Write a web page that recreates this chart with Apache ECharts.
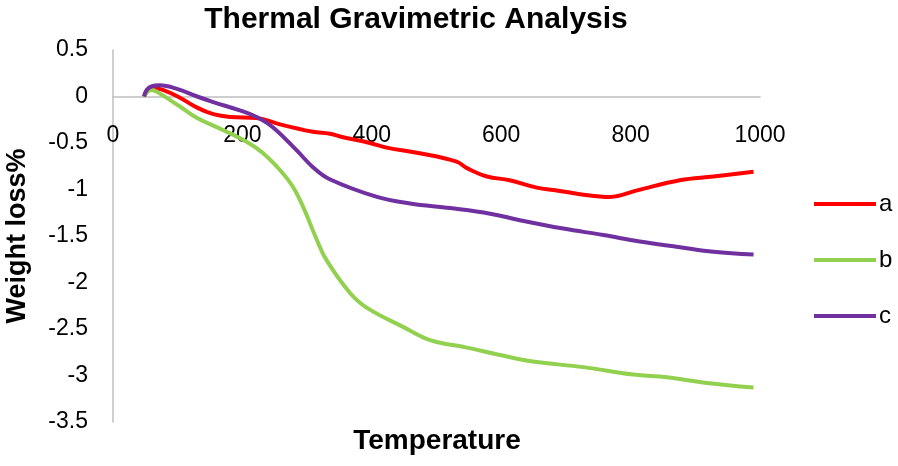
<!DOCTYPE html>
<html><head><meta charset="utf-8">
<script src="https://cdn.jsdelivr.net/npm/echarts@6/dist/echarts.min.js"></script>
<style>html,body{margin:0;padding:0;background:#fff}#c{width:898px;height:466px}</style>
</head><body><div id="c"></div>
<script>
const seriesNames = ['a', 'b', 'c'];
const xTicks = [0, 200, 400, 600, 800, 1000];
const yTicks = [0.5, 0, -0.5, -1, -1.5, -2, -2.5, -3, -3.5];
const dataA = [[48,0],[55,0.07],[65,0.09],[77,0.07],[100,0.0],[130,-0.12],[155,-0.19],[181,-0.22],[222,-0.23],[258,-0.30],[309,-0.38],[335,-0.40],[351,-0.43],[397,-0.50],[423,-0.55],[474,-0.61],[531,-0.70],[547,-0.77],[578,-0.86],[613,-0.90],[655,-0.98],[686,-1.01],[722,-1.05],[768,-1.08],[810,-1.01],[876,-0.90],[928,-0.86],[990,-0.81]];
const dataB = [[48,0],[53,0.05],[60,0.07],[68,0.05],[104,-0.11],[130,-0.23],[170,-0.36],[207,-0.49],[232,-0.61],[258,-0.79],[278,-0.97],[294,-1.19],[315,-1.54],[330,-1.76],[366,-2.11],[392,-2.27],[449,-2.48],[490,-2.62],[547,-2.70],[598,-2.78],[649,-2.85],[727,-2.91],[804,-2.99],[856,-3.02],[918,-3.08],[990,-3.13]];
const dataC = [[48,0],[52,0.07],[60,0.11],[72,0.12],[100,0.08],[130,0.0],[155,-0.06],[196,-0.15],[222,-0.22],[247,-0.33],[284,-0.58],[309,-0.76],[335,-0.89],[408,-1.08],[459,-1.15],[521,-1.20],[583,-1.26],[629,-1.33],[696,-1.42],[758,-1.49],[814,-1.56],[876,-1.62],[928,-1.67],[990,-1.70]];
const colors = ['#FF0000', '#92D050', '#7030A0'];
const FONT = 'Liberation Sans';
const chart = echarts.init(document.getElementById('c'));
const mk = (name, data, color) => ({
  name, type: 'line', data, smooth: 0.4, showSymbol: false,
  lineStyle: { color, width: 4 }, itemStyle: { color }
});
chart.setOption({
  animation: false,
  textStyle: { fontFamily: FONT },
  title: [{
    text: 'Thermal Gravimetric Analysis', left: 416, top: 5, textAlign: 'center', padding: 0,
    textStyle: { fontFamily: FONT, fontWeight: 'bold', fontSize: 30, color: '#000' }
  }, {
    text: 'Temperature', left: 437, top: 427, textAlign: 'center', padding: 0,
    textStyle: { fontFamily: FONT, fontWeight: 'bold', fontSize: 28, color: '#000' }
  }],
  grid: { left: 113, right: 138, top: 50, bottom: 44, containLabel: false, outerBoundsMode: 'none' },
  legend: {
    orient: 'vertical', left: 814, top: 192, itemWidth: 62, itemHeight: 4, padding: 0,
    itemGap: 32, icon: 'rect', data: seriesNames,
    textStyle: { fontFamily: FONT, fontSize: 24, color: '#000', padding: [0, 0, 0, -2] }
  },
  xAxis: {
    type: 'value', min: xTicks[0], max: xTicks[xTicks.length - 1], interval: 200,
    axisLine: { onZero: true, lineStyle: { color: '#BFBFBF', width: 1.5 } },
    axisTick: { show: false }, splitLine: { show: false },
    axisLabel: { margin: -298, fontSize: 23, color: '#000', fontFamily: FONT, formatter: v => String(v) }
  },
  yAxis: {
    type: 'value', min: yTicks[yTicks.length - 1], max: yTicks[0], interval: 0.5,
    axisLine: { show: true, onZero: false, lineStyle: { color: '#BFBFBF', width: 1.5 } },
    axisTick: { show: false }, splitLine: { show: false },
    axisLabel: { margin: 25, fontSize: 23, color: '#000', fontFamily: FONT },
    name: 'Weight loss%', nameLocation: 'middle', nameGap: 82, nameRotate: 90,
    nameTextStyle: { fontFamily: FONT, fontWeight: 'bold', fontSize: 27, color: '#000' }
  },
  series: [mk(seriesNames[0], dataA, colors[0]), mk(seriesNames[1], dataB, colors[1]), mk(seriesNames[2], dataC, colors[2])]
});
</script></body></html>
